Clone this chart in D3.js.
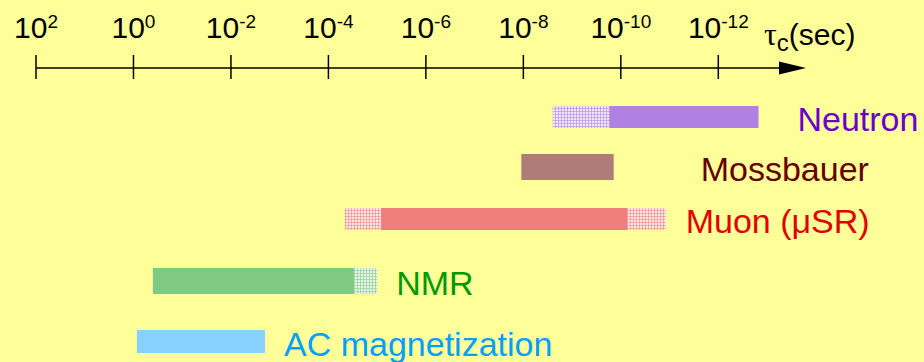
<!DOCTYPE html>
<html>
<head>
<meta charset="utf-8">
<script src="https://cdn.jsdelivr.net/npm/d3@7"></script>
<style>
  html, body { margin: 0; padding: 0; background: #ffff99; }
  svg { display: block; }
</style>
</head>
<body>
<div id="chart"></div>
<script>
// correlation-time windows of the different probes, tau_c in seconds

// tick exponents along the axis (10^2 ... 10^-12)
const tickExponents = [2, 0, -2, -4, -6, -8, -10, -12]

// techniques, top to bottom
const methods = ["Neutron", "Mossbauer", "Muon (μSR)", "NMR", "AC magnetization"]

// solid part of each window (slow end, fast end)
const coreSlow = [1.7e-10, 1.1e-8, 8.3e-6, 0.4, 0.85]
const coreFast = [1.5e-13, 1.4e-10, 7.4e-11, 3.0e-5, 2.0e-3]

// hatched (extended) part, outer limits on each side
const extSlow = [2.5e-9, 1.1e-8, 4.6e-5, 0.4, 0.85]
const extFast = [1.5e-13, 1.4e-10, 1.2e-11, 1.0e-5, 2.0e-3]

const barColors  = ["#b080e2", "#b07c7a", "#f07f7c", "#80c982", "#88d0ff"]
const textColors = ["#6a00cc", "#640000", "#e00000", "#009a00", "#00a0ff"]

const W = 924, H = 362

const svg = d3.select("#chart").append("svg")
  .attr("width", W).attr("height", H)
  .style("font-family", "'Liberation Sans', Arial, sans-serif")

svg.append("rect").attr("width", W).attr("height", H).attr("fill", "#ffff99")

// log scale, time runs from slow (left) to fast (right)
const x = d3.scaleLog().domain([1e2, 1e-12]).range([36, 718.3])

// row centres and bar heights (layout only)
const rowY = d3.scaleOrdinal().domain(methods).range([117, 167, 219, 281, 341.5])
const rowH = d3.scaleOrdinal().domain(methods).range([22, 26, 22, 26, 23])

// ---- axis ----
const axisY = 68
const axisG = svg.append("g")

axisG.append("line")
  .attr("x1", x(1e2)).attr("x2", 782)
  .attr("y1", axisY).attr("y2", axisY)
  .attr("stroke", "#000").attr("stroke-width", 1.5)

axisG.append("path")
  .attr("d", `M779,${axisY - 6.5} L806,${axisY} L779,${axisY + 6.5} Z`)
  .attr("fill", "#000")

axisG.selectAll(".tick")
  .data(tickExponents)
  .join("line")
  .attr("x1", d => x(Math.pow(10, d))).attr("x2", d => x(Math.pow(10, d)))
  .attr("y1", axisY - 13).attr("y2", axisY + 11)
  .attr("stroke", "#000").attr("stroke-width", 1.5)

const tickLabels = axisG.selectAll(".tick-label")
  .data(tickExponents)
  .join("text")
  .attr("x", d => x(Math.pow(10, d)))
  .attr("y", 38)
  .attr("text-anchor", "middle")
  .style("font-size", "30px")
  .style("fill", "#000")

tickLabels.append("tspan").text("10")
tickLabels.append("tspan")
  .attr("dy", -10)
  .style("font-size", "19px")
  .text(d => String(d))

// tau_c(sec)
const unit = axisG.append("text").attr("x", 764).attr("y", 45).style("fill", "#000")
unit.append("tspan").style("font-family", "'Liberation Serif', 'Times New Roman', serif")
  .style("font-size", "32px").text("τ")
unit.append("tspan").attr("dy", 6).style("font-size", "24px").text("c")
unit.append("tspan").attr("dy", -6).style("font-size", "30px").text("(sec)")

// ---- hatched fill patterns for the extended ranges ----
const defs = svg.append("defs")
methods.forEach((m, i) => {
  const p = defs.append("pattern")
    .attr("id", "hatch" + i)
    .attr("patternUnits", "userSpaceOnUse")
    .attr("width", 3).attr("height", 3)
  p.append("rect").attr("width", 3).attr("height", 3).attr("fill", "#fff")
  p.append("rect").attr("width", 3).attr("height", 3).attr("fill", barColors[i]).attr("opacity", 0.2)
  p.append("rect").attr("width", 1).attr("height", 3).attr("fill", barColors[i]).attr("opacity", 0.55)
  p.append("rect").attr("width", 3).attr("height", 1).attr("fill", barColors[i]).attr("opacity", 0.55)
})

// ---- bars ----
const rows = methods.map((m, i) => ({
  name: m, i: i,
  coreSlow: coreSlow[i], coreFast: coreFast[i],
  extSlow: extSlow[i], extFast: extFast[i]
}))

const barG = svg.append("g")

// extended (hatched) range underneath
barG.selectAll(".ext")
  .data(rows.filter(d => d.extSlow !== d.coreSlow || d.extFast !== d.coreFast))
  .join("rect")
  .attr("class", "ext")
  .attr("x", d => x(d.extSlow))
  .attr("width", d => x(d.extFast) - x(d.extSlow))
  .attr("y", d => rowY(d.name) - rowH(d.name) / 2)
  .attr("height", d => rowH(d.name))
  .attr("fill", d => `url(#hatch${d.i})`)

// solid core range
barG.selectAll(".core")
  .data(rows)
  .join("rect")
  .attr("class", "core")
  .attr("x", d => x(d.coreSlow))
  .attr("width", d => x(d.coreFast) - x(d.coreSlow))
  .attr("y", d => rowY(d.name) - rowH(d.name) / 2)
  .attr("height", d => rowH(d.name))
  .attr("fill", d => barColors[d.i])

// labels, just right of each bar
barG.selectAll(".label")
  .data(rows)
  .join("text")
  .attr("class", "label")
  .attr("x", d => x(d.extFast) + [39, 87, 20, 19, 19][d.i])
  .attr("y", d => rowY(d.name) + 14)
  .style("font-size", "34px")
  .style("fill", d => textColors[d.i])
  .text(d => d.name)
</script>
</body>
</html>
